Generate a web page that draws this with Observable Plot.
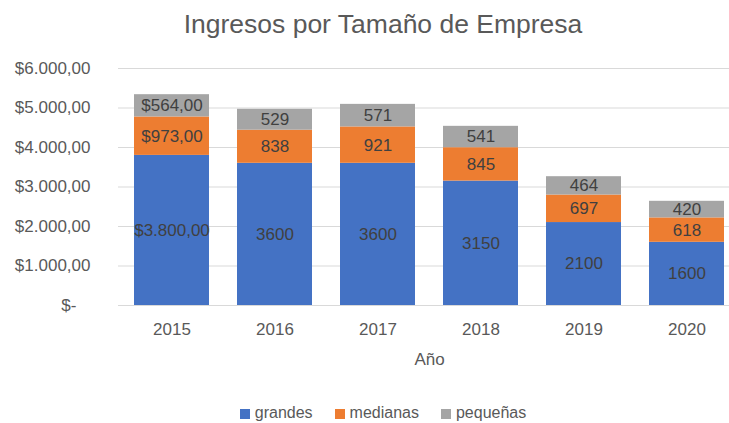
<!DOCTYPE html>
<html>
<head>
<meta charset="utf-8">
<script src="https://cdn.jsdelivr.net/npm/d3@7"></script>
<script src="https://cdn.jsdelivr.net/npm/@observablehq/plot@0.6"></script>
<style>
  html, body { margin: 0; padding: 0; background: #fff; overflow: hidden; }
  #wrap { width: 766px; font-family: "Liberation Sans", Arial, sans-serif; }
  #title { height: 50px; box-sizing: border-box; padding-top: 9px; text-align: center;
           font-size: 26.5px; line-height: 30px; color: #595959; }
  #legend { display: flex; justify-content: center; gap: 22px; margin-top: 18px;
            font-size: 16px; color: #595959; line-height: 19px; }
  #legend span.sw { display: inline-block; width: 10px; height: 10px; margin-right: 5px; vertical-align: -1px; }
</style>
</head>
<body>
<div id="wrap">
  <div id="title">Ingresos por Tamaño de Empresa</div>
  <div id="chart"></div>
  <div id="legend"></div>
</div>
<script>
const years = ["2015", "2016", "2017", "2018", "2019", "2020"];
const grandes = [3800, 3600, 3600, 3150, 2100, 1600];
const medianas = [973, 838, 921, 845, 697, 618];
const pequenas = [564, 529, 571, 541, 464, 420];
const series = ["grandes", "medianas", "pequeñas"];
const colors = ["#4472C4", "#ED7D31", "#A5A5A5"];
const yTicks = [0, 1000, 2000, 3000, 4000, 5000, 6000];
const currencyYears = ["2015"];

const seriesValues = [grandes, medianas, pequenas];
const data = years.flatMap((year, i) =>
  series.map((s, j) => ({year, serie: s, value: seriesValues[j][i]}))
);

const locale = d3.formatLocale({decimal: ",", thousands: ".", grouping: [3], currency: ["$", ""]});
const money = locale.format("$,.2f");
const yFmt = d => d === 0 ? "$-\u00a0\u00a0\u00a0" : money(d);
const labelFmt = d => currencyYears.includes(d.year) ? money(d.value) : String(d.value);

const chart = Plot.plot({
  width: 745,
  height: 335,
  marginLeft: 118,
  marginRight: 5,
  marginTop: 18,
  marginBottom: 80,
  x: {domain: years, paddingInner: 0.27, paddingOuter: 0.135},
  y: {domain: [0, 6000]},
  color: {domain: series, range: colors},
  style: {fontFamily: "Liberation Sans, Arial, sans-serif", fontSize: "17px", color: "#595959", background: "white"},
  marks: [
    Plot.gridY(yTicks, {stroke: "#d9d9d9", strokeOpacity: 1, strokeWidth: 1}),
    Plot.axisY(yTicks, {tickSize: 0, tickPadding: 28, tickFormat: yFmt, label: null, fontSize: 17}),
    Plot.axisX({tickSize: 0, tickPadding: 17, label: "Año", labelAnchor: "center", labelArrow: "none", labelOffset: 59, fontSize: 17}),
    Plot.barY(data, {x: "year", y: "value", fill: "serie", z: "serie"}),
    Plot.text(data, Plot.stackY({x: "year", y: "value", z: "serie", text: labelFmt, fill: "#404040", fontSize: 17}))
  ]
});
document.getElementById("chart").appendChild(chart);

const legend = document.getElementById("legend");
series.forEach((s, i) => {
  const item = document.createElement("div");
  item.innerHTML = `<span class="sw" style="background:${colors[i]}"></span>${s}`;
  legend.appendChild(item);
});
</script>
</body>
</html>
